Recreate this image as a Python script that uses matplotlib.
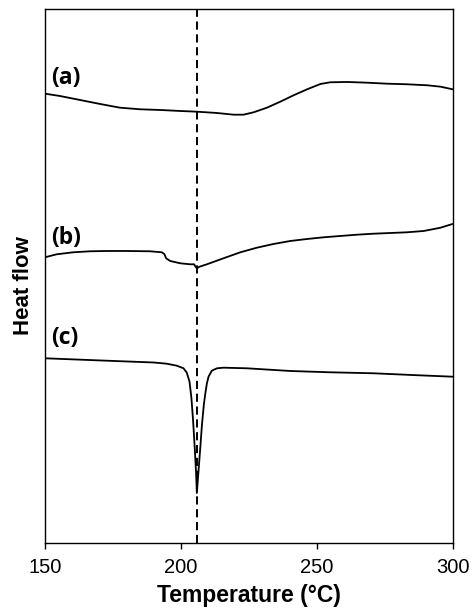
import matplotlib
matplotlib.use("Agg")
import matplotlib.pyplot as plt

# DSC traces (temperature in °C, heat flow in arbitrary units, curves offset)
temp_a = [150, 155.5, 162.9, 170.3, 177.6, 185, 192.4, 199.8, 205.9, 213.3, 219.4, 223.1, 226.8,
          231.7, 236.6, 241.5, 246.5, 251.4, 255, 261.2, 268.6, 275.9, 283.3, 290.7, 295.6, 300]
flow_a = [4.493, 4.47, 4.43, 4.39, 4.353, 4.337, 4.33, 4.32, 4.313, 4.30, 4.283, 4.283, 4.307,
          4.353, 4.413, 4.477, 4.537, 4.59, 4.607, 4.61, 4.603, 4.593, 4.587, 4.577, 4.563, 4.537]

temp_b = [150, 154.3, 160.4, 166.6, 172.7, 180.1, 188.7, 193, 193.9, 194.6, 196.1, 199.8, 203.4,
          204.9, 205.4, 205.9, 206.9, 209.6, 215.7, 221.9, 228, 234.1, 240.3, 246.5, 252.6, 258.7,
          264.9, 271, 277.2, 283.3, 289.4, 295.6, 300]
flow_b = [2.857, 2.887, 2.907, 2.917, 2.92, 2.92, 2.917, 2.907, 2.89, 2.847, 2.82, 2.797, 2.787,
          2.787, 2.763, 2.747, 2.763, 2.787, 2.847, 2.907, 2.953, 2.99, 3.02, 3.04, 3.057, 3.07,
          3.083, 3.093, 3.10, 3.107, 3.12, 3.153, 3.19]

temp_c = [150, 172.7, 190, 194.8, 198.5, 201, 202.2, 203.2, 203.9, 204.5, 205.1, 205.6, 205.9,
          206.4, 207.1, 207.8, 208.5, 209.1, 209.6, 210.2, 211.4, 213.3, 215.7, 224.3, 240.3, 255,
          271, 285, 300]
flow_c = [1.847, 1.823, 1.805, 1.793, 1.773, 1.747, 1.703, 1.613, 1.45, 1.23, 0.96, 0.71, 0.50,
          0.68, 0.93, 1.19, 1.39, 1.51, 1.597, 1.663, 1.723, 1.747, 1.753, 1.747, 1.72, 1.707,
          1.697, 1.68, 1.663]

labels = ["(a)", "(b)", "(c)"]
label_y = [4.65, 3.05, 2.05]
melt_temp = 206
xticks = [150, 200, 250, 300]

fig = plt.figure(figsize=(4.72, 6.11), dpi=100)
ax = fig.add_axes([0.0953, 0.1113, 0.8634, 0.874])

for t, f in ((temp_a, flow_a), (temp_b, flow_b), (temp_c, flow_c)):
    ax.plot(t, f, color="black", lw=1.3, solid_joinstyle="round", solid_capstyle="round")

ax.axvline(melt_temp, color="black", lw=1.4, dashes=(4.2, 2.4))

for lab, y in zip(labels, label_y):
    ax.text(152.3, y, lab, fontsize=16.5, fontweight="bold", family="Open Sans",
            ha="left", va="center")

ax.set_xlim(150, 300)
ax.set_ylim(0, 5.34)
ax.set_xticks(xticks)
ax.set_yticks([])
ax.tick_params(axis="x", direction="out", length=4.5, width=1, pad=6,
               labelsize=14.5)
for lbl in ax.get_xticklabels():
    lbl.set_family("Liberation Sans")
for sp in ax.spines.values():
    sp.set_linewidth(1.0)

ax.set_xlabel("Temperature (°C)", fontsize=16.5, fontweight="bold",
              family="Liberation Sans", labelpad=5)
ax.set_ylabel("Heat flow", fontsize=16, fontweight="bold",
              family="Liberation Sans")
ax.yaxis.set_label_coords(-0.028, 0.483)

fig.savefig("out.png", dpi=100)
